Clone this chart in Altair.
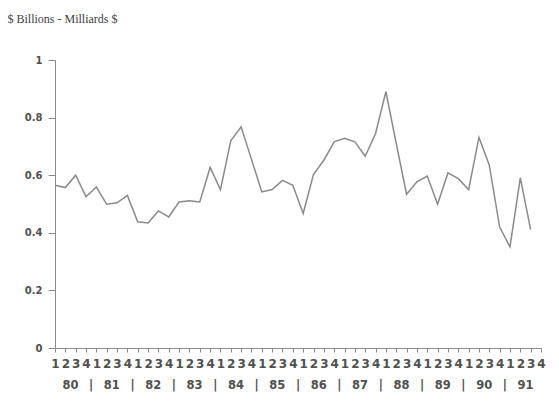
import altair as alt
import pandas as pd

# Quarterly values, 1980 Q1 .. 1991 Q3 ($ billions)
values = [0.565, 0.557, 0.600, 0.525, 0.559, 0.499, 0.504, 0.530, 0.438, 0.434,
          0.476, 0.455, 0.507, 0.511, 0.507, 0.627, 0.550, 0.719, 0.768, 0.655,
          0.542, 0.550, 0.582, 0.565, 0.467, 0.603, 0.652, 0.716, 0.728, 0.716,
          0.666, 0.745, 0.890, 0.710, 0.534, 0.577, 0.597, 0.499, 0.608, 0.588,
          0.550, 0.731, 0.635, 0.420, 0.351, 0.591, 0.411]
years = ["80", "81", "82", "83", "84", "85", "86", "87", "88", "89", "90", "91"]
y_ticks = [0, 0.2, 0.4, 0.6, 0.8, 1]
title_text = "$ Billions - Milliards $"

n_quarters = len(years) * 4
df = pd.DataFrame({"t": list(range(len(values))), "value": values})
year_df = pd.DataFrame({"t": [4 * i + 1.5 for i in range(len(years))], "label": years})
sep_df = pd.DataFrame({"t": [4 * i + 3.5 for i in range(len(years) - 1)], "label": ["|"] * (len(years) - 1)})

W, H = 486, 288
GRAY = "#8a8a8a"
TXT = "#505050"

xscale = alt.Scale(domain=[0, n_quarters - 1], nice=False, zero=False)
x_axis = alt.Axis(values=list(range(n_quarters)), labelExpr="(datum.value % 4) + 1",
                  title=None, grid=False, tickSize=4, labelPadding=15,
                  labelBaseline="alphabetic", labelFlush=False, labelOverlap=False,
                  labelFont="DejaVu Sans", labelFontWeight="bold", labelFontSize=12,
                  labelColor=TXT, domainColor=GRAY, tickColor=GRAY)

line = alt.Chart(df).mark_line(color=GRAY, strokeWidth=1.5).encode(
    x=alt.X("t:Q", scale=xscale, axis=x_axis),
    y=alt.Y("value:Q", scale=alt.Scale(domain=[0, 1], nice=False),
            axis=alt.Axis(values=y_ticks, format="~g", grid=False, tickSize=7,
                          labelPadding=6, labelFont="DejaVu Sans", labelFontWeight="bold",
                          labelFontSize=10, labelColor=TXT, domainColor=GRAY, tickColor=GRAY,
                          title=title_text, titleAngle=0, titleAlign="left",
                          titleBaseline="alphabetic", titleX=-48, titleY=-38,
                          titleFont="Liberation Serif", titleFontSize=12,
                          titleFontWeight="normal", titleColor="#404040")),
)

year_text = alt.Chart(year_df).mark_text(font="DejaVu Sans", fontWeight="bold", fontSize=11.5,
                                          color=TXT, baseline="alphabetic").encode(
    x=alt.X("t:Q", scale=xscale, axis=x_axis), y=alt.value(H + 41), text="label:N")

sep_text = alt.Chart(sep_df).mark_text(font="DejaVu Sans", fontWeight="bold", fontSize=11.5,
                                        color=TXT, baseline="alphabetic").encode(
    x=alt.X("t:Q", scale=xscale, axis=x_axis), y=alt.value(H + 41), text="label:N")

chart = alt.layer(line, year_text, sep_text).properties(
    width=W, height=H,
    autosize=alt.AutoSizeParams(type="none"),
    padding={"left": 47, "top": 52, "right": 10, "bottom": 57},
).configure(background="white", view=alt.ViewConfig(stroke=None))

chart.save("out.html", embed_options={"renderer": "svg", "actions": False})
